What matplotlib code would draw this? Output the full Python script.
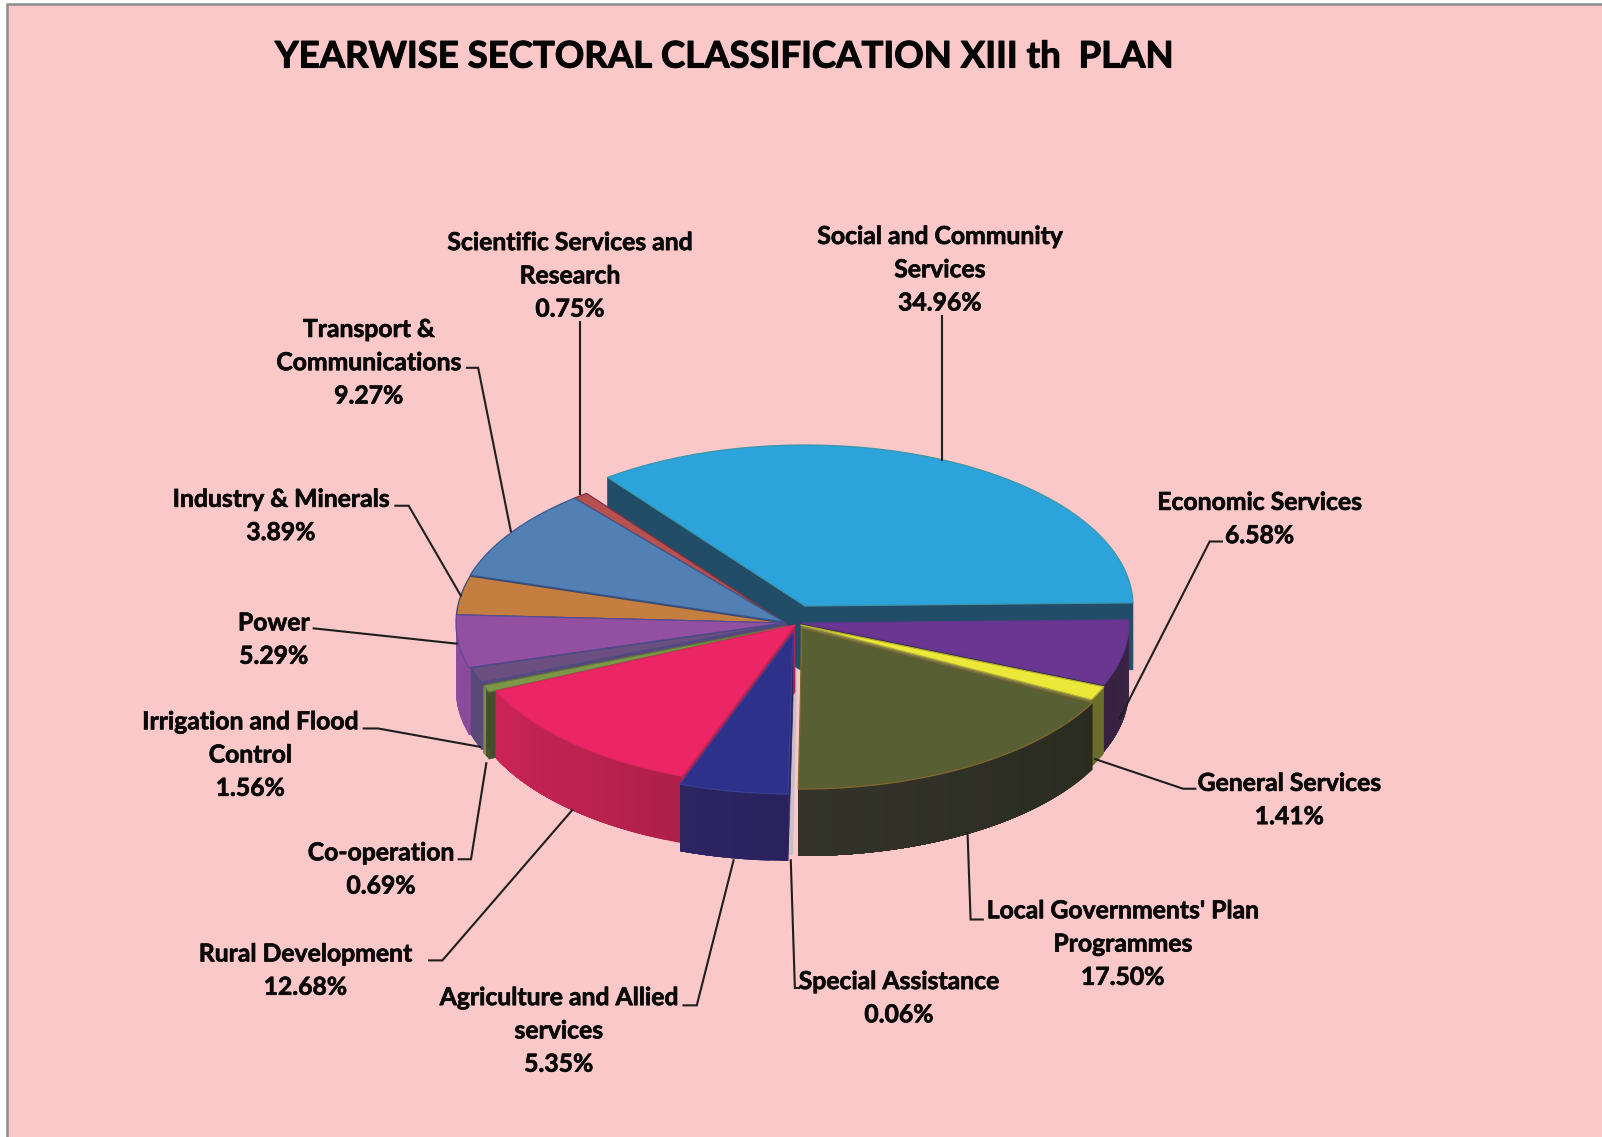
import numpy as np
import matplotlib
matplotlib.use("Agg")
import matplotlib.pyplot as plt
import matplotlib.patheffects as pe
from matplotlib.patches import Polygon, Rectangle
from matplotlib.colors import to_rgb

# ---------- data ----------
categories = ["Social and Community\nServices", "Economic Services", "General Services",
              "Local Governments' Plan\nProgrammes", "Special Assistance",
              "Agriculture and Allied\nservices", "Rural Development", "Co-operation",
              "Irrigation and Flood\nControl", "Power", "Industry & Minerals",
              "Transport &\nCommunications", "Scientific Services and\nResearch"]
values = [34.96, 6.58, 1.41, 17.50, 0.06, 5.35, 12.68, 0.69, 1.56, 5.29, 3.89, 9.27, 0.75]
title_text = "YEARWISE SECTORAL CLASSIFICATION XIII th  PLAN"

# ---------- styles ----------
top_colors = ["#2CA3DB", "#6B3592", "#EBE83A", "#585F33", "#D9D2D8", "#2D318A", "#EB2566",
              "#7D9647", "#6A4F80", "#9450A0", "#C47E3F", "#5280B5", "#B85050"]
edge_colors = ["#3C96A8", "#5A3A88", "#B8B030", "#80682F", "#C8C0C8", "#3A3E90", "#D8285E",
               "#5F7A3A", "#4A4A88", "#5A4A98", "#3A4A70", "#3A5A90", "#7A3040"]
wall_from = ["#214D68", "#3A2548", "#6B6E2A", "#2B2C20", "#C8C0C8", "#2A225C", "#AE1F49",
             "#44502A", "#5A4878", "#8A4A9C", "#A06030", "#3A5A80", "#8A3A3A"]
wall_to = ["#214D68", "#38213F", "#6B6E2A", "#33332A", "#C8C0C8", "#2C2562", "#CB2556",
           "#7C8C48", "#5A4878", "#8E4CA0", "#A06030", "#3A5A80", "#8A3A3A"]
cut_colors = ["#214D68", "#38213F", "#7A8050", "#2B2C20", "#C8C0C8", "#2A225C", "#B22150",
              "#44502A", "#5A4878", "#8A4A9C", "#A06030", "#3A5A80", "#8A3A3A"]
shift_x = [19, 15, 15, 16, 9, 7, 9, 2, 0, -2, -2, -2, -2]
shift_y = [-17, 0, 2, 5, 4, 10, 2, 3, 0, 0, 0, -1, -1]
paint_order = [4, 0, 12, 11, 10, 9, 8, 7, 1, 2, 3, 6, 5]

start_angle = -37.0
centre_x, centre_y = 786.0, 623.0
radius_x, radius_y = 328.0, 161.0
depth = 67.0

# label block centres and leader polylines, in pixels of the shrunk view
S = 1602 / 1568
label_x = [920, 1233, 1262, 1099, 880, 547, 299, 373, 245, 268, 275, 361, 558]
label_y = [264, 508, 783, 924, 977, 1009, 950, 851, 739, 626, 505, 355, 270]
leaders = [
    [(922, 309), (922, 450)],
    [(1196, 530), (1184, 530), (1096, 703)],
    [(1170, 772), (1158, 772), (1072, 743)],
    [(962, 900), (950, 900), (947, 815)],
    [(782, 967), (778, 967), (774, 842)],
    [(669, 984), (682, 984), (718, 842)],
    [(420, 940), (433, 940), (560, 793)],
    [(449, 841), (461, 841), (476, 747)],
    [(356, 713), (370, 713), (470, 731)],
    [(307, 615), (447, 630)],
    [(387, 495), (400, 495), (451, 583)],
    [(457, 360), (468, 360), (500, 520)],
    [(568, 315), (568, 484)],
]

fig = plt.figure(figsize=(16.02, 11.37), dpi=100, facecolor="white")
ax = fig.add_axes([0, 0, 1, 1])
ax.set_xlim(0, 1602)
ax.set_ylim(1137, 0)
ax.axis("off")
ax.add_patch(Rectangle((6.5, 4.0), 1700, 1300, facecolor="#FAC8C8", edgecolor="#8C8C8C", lw=1.8))


def rim(theta, i):
    t = np.radians(theta)
    return (centre_x + shift_x[i] + radius_x * np.sin(t),
            centre_y + shift_y[i] - radius_y * np.cos(t))


def mix(a, b, f):
    a, b = np.array(to_rgb(a)), np.array(to_rgb(b))
    return tuple(a + (b - a) * f)


edges = start_angle + np.concatenate([[0], np.cumsum(values)]) * 360.0 / sum(values)
z = 5
for i in paint_order:
    a0, a1 = edges[i], edges[i + 1]
    ax_, ay_ = centre_x + shift_x[i], centre_y + shift_y[i]
    # cut faces that look towards the viewer
    for ang, visible in ((a0, np.sin(np.radians(a0)) < 0), (a1, np.sin(np.radians(a1)) > 0)):
        if visible:
            rx_, ry_ = rim(ang, i)
            lw = 2.5 if values[i] < 0.2 else 0.5
            ax.add_patch(Polygon([(ax_, ay_), (rx_, ry_), (rx_, ry_ + depth), (ax_, ay_ + depth)],
                                 closed=True, facecolor=cut_colors[i], edgecolor=cut_colors[i],
                                 lw=lw, zorder=z))
            z += 1
    # outer wall in shaded strips, each laid over the one before so no seams show
    w0, w1 = max(a0, 88.0), min(a1, 272.6)
    if w1 > w0:
        n = max(2, int((w1 - w0) / 3.0))
        steps = np.linspace(w0, w1, n + 1)
        for k in range(n):
            sub = np.linspace(steps[k], w1, max(6, int((w1 - steps[k]) * 2)))
            up = [rim(s, i) for s in sub]
            low = [(x, y + depth) for x, y in reversed(up)]
            c = mix(wall_from[i], wall_to[i], (k + 0.5) / n if n > 2 else k)
            ax.add_patch(Polygon(up + low, closed=True, facecolor=c, edgecolor="none", zorder=z))
            z += 1
    # top face
    arc = [rim(s, i) for s in np.linspace(a0, a1, max(4, int(a1 - a0) * 2))]
    ax.add_patch(Polygon([(ax_, ay_)] + arc, closed=True, facecolor=top_colors[i],
                         edgecolor=edge_colors[i], lw=0.9, joinstyle="round", zorder=z))
    z += 1

for pts in leaders:
    xs = [p[0] * S for p in pts]
    ys = [p[1] * S for p in pts]
    ax.plot(xs, ys, color="#1E1E1E", lw=1.5, solid_joinstyle="miter", zorder=z + 1)

heavier = [pe.withStroke(linewidth=0.5, foreground="#0A0A0A")]
for name, v, lx, ly in zip(categories, values, label_x, label_y):
    ax.text(lx * S, ly * S, f"{name}\n{v:.2f}%", ha="center", va="center", family="Lato",
            weight="bold", fontsize=17.8, linespacing=1.54, color="#0A0A0A", zorder=z + 2,
            path_effects=heavier)

ax.text(275, 57, title_text, ha="left", va="center", family="Lato", weight="bold",
        fontsize=26.3, color="#050505", zorder=z + 2,
        path_effects=[pe.withStroke(linewidth=0.8, foreground="#050505")])

fig.savefig("out.png", dpi=100)
